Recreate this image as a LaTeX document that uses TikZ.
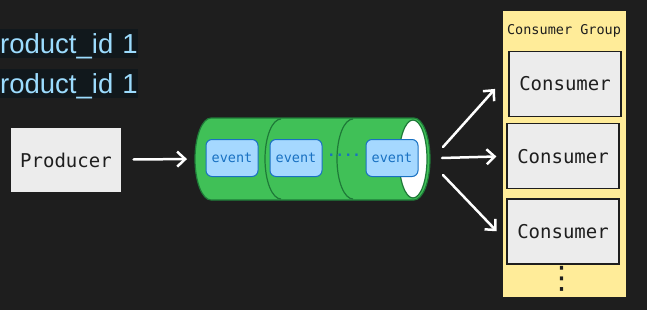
\documentclass[tikz,border=0pt]{standalone}
\usepackage{fontspec}
\setmonofont{DejaVu Sans Mono}
\newfontfamily\idfont{Liberation Sans}
\newfontfamily\symfont{DejaVu Sans}
\usepackage{tikz}
\usetikzlibrary{arrows.meta,positioning}
\definecolor{canvas}{HTML}{1E1E1E}
\definecolor{ink}{HTML}{1E1E1E}
\definecolor{paper}{HTML}{ECECEC}
\definecolor{idbg}{HTML}{11181C}
\definecolor{idtext}{HTML}{9CDCFE}
\definecolor{tubefill}{HTML}{40C057}
\definecolor{tubeline}{HTML}{1E7A38}
\definecolor{evfill}{HTML}{A5D8FF}
\definecolor{evline}{HTML}{1971C2}
\definecolor{groupfill}{HTML}{FFEC99}

\begin{document}
\begin{tikzpicture}[
  x=1pt, y=-1pt,
  font=\ttfamily\fontsize{19}{22}\selectfont,
  node distance=7pt and 7pt,
  card/.style={draw=ink, fill=paper, line width=1.2pt, minimum width=112pt, minimum height=65pt, inner sep=0pt, text=ink},
  event/.style={draw=evline, fill=evfill, rounded corners=6pt, line width=1pt, minimum width=52pt, minimum height=37pt, inner sep=0pt, text=evline, font=\ttfamily\fontsize{13.5}{15}\selectfont},
  idline/.style={fill=idbg, text=idtext, anchor=north west, text width=138pt, align=left, inner xsep=0pt, inner ysep=0pt, text height=24pt, text depth=5pt, font=\idfont\fontsize{27.5}{30}\selectfont},
  flow/.style={-{Straight Barb[length=8pt,width=15pt]}, line width=2.5pt, draw=white, line cap=round, line join=round}
]
\useasboundingbox[fill=canvas] (0,0) rectangle (647,310);

% key lines
\node[idline] (key1) at (0,29) {roduct\_id 1};
\node[idline] (key2) at (0,69) {roduct\_id 1};

\node[card] (prod) at (66,160) {Producer};

% topic tube
\draw[tubeline, fill=tubefill, line width=1.2pt] (211,118) -- (414,118)
  arc[start angle=270, end angle=450, x radius=16, y radius=41] -- (211,200)
  arc[start angle=90, end angle=270, x radius=16, y radius=41] -- cycle;
\draw[tubeline, line width=1.2pt] (281,119) arc[start angle=270, end angle=90, x radius=16, y radius=40];
\draw[tubeline, line width=1.2pt] (353,119) arc[start angle=270, end angle=90, x radius=16, y radius=40];
\draw[tubeline, fill=white, line width=1.2pt] (413,159) ellipse[x radius=14, y radius=39];
\coordinate (tubein) at (195,159);
\coordinate (out1) at (443,147);
\coordinate (out2) at (442,158);
\coordinate (out3) at (443,175);

\node[event] (ev1) at (232,158) {event};
\node[event] (ev2) at (296,158) {event};
\node[event] (ev3) at (392,158) {event};
\node[text=evline, inner sep=0pt, font=\ttfamily\bfseries\fontsize{14}{14}\selectfont] (gap) at (344,155) {....};

% consumer group
\node[draw=ink, fill=groupfill, line width=1.2pt, minimum width=125pt, minimum height=288pt, inner sep=0pt] (group) at (564.5,154) {};
\node[text=ink, font=\ttfamily\fontsize{13.5}{15}\selectfont] (title) at (564,31) {Consumer Group};
\node[card] (c1) at (565,84) {Consumer};
\node[card, below=6pt of c1.south, anchor=north, xshift=-2pt] (c2) {Consumer};
\node[card, below=9pt of c2.south, anchor=north] (c3) {Consumer};
\node[text=ink, inner sep=0pt, font=\symfont\fontsize{31}{31}\selectfont] (more) at (562,279) {⋮};

\draw[flow, shorten <=11pt, shorten >=8pt] (prod) -- (tubein);
\draw[flow, shorten >=20pt] (out1) -- (c1.170);
\draw[flow, shorten >=10pt] (out2) -- (c2.west);
\draw[flow, shorten >=14pt] (out3) -- (c3.190);
\end{tikzpicture}
\end{document}
